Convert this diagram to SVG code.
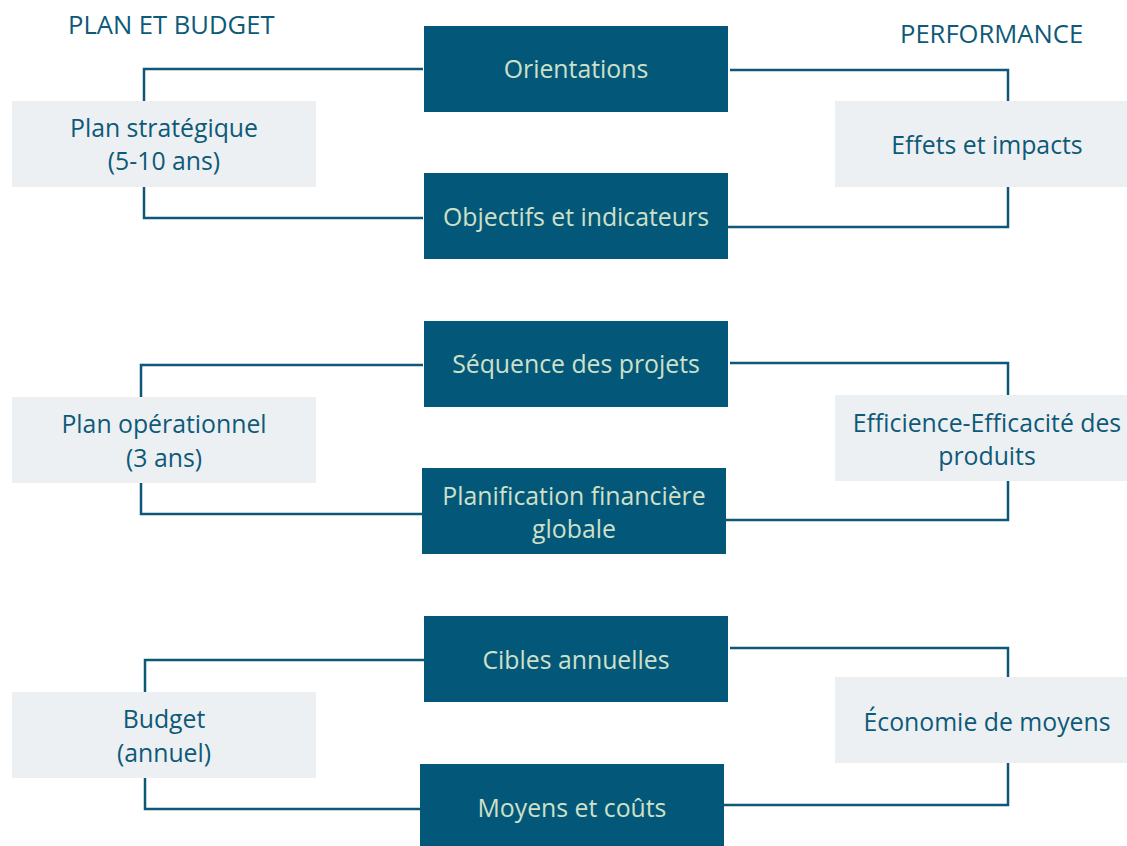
<svg xmlns="http://www.w3.org/2000/svg" width="1127" height="846" viewBox="0 0 1127 846">
  <style>
    .conn { fill: none; stroke: #0d5877; stroke-width: 2.5; }
    .light { fill: #edf0f3; }
    .dark { fill: #03587a; }
    text { font-family: "Open Sans", "Noto Sans", sans-serif; font-size: 24.8px; text-anchor: middle; }
    .lt { fill: #0d5a78; }
    .dt { fill: #cfe0c8; }
    .hdr { fill: #0d5a78; font-size: 25.6px; text-anchor: start; }
  </style>
  <rect width="1127" height="846" fill="#ffffff"/>

  <g id="headers">
    <text class="hdr" x="68" y="34">PLAN ET BUDGET</text>
    <text class="hdr" x="900" y="43">PERFORMANCE</text>
  </g>

  <g id="connectors">
    <path class="conn" d="M423,69 H144 V218 H423"/>
    <path class="conn" d="M730,70 H1008 V227 H728"/>
    <path class="conn" d="M423,365 H141 V514 H422"/>
    <path class="conn" d="M730,363 H1008 V520 H726"/>
    <path class="conn" d="M424,660 H145 V809 H420"/>
    <path class="conn" d="M730,648 H1008 V805 H724"/>
  </g>

  <!-- Row 1 -->
  <g id="plan-strategique">
    <rect class="light" x="12" y="101" width="304" height="86"/>
    <text class="lt" x="164" y="137">Plan stratégique</text>
    <text class="lt" x="164" y="170">(5-10 ans)</text>
  </g>
  <g id="orientations">
    <rect class="dark" x="424" y="26" width="304" height="86"/>
    <text class="dt" x="576" y="78">Orientations</text>
  </g>
  <g id="objectifs">
    <rect class="dark" x="424" y="173" width="304" height="86"/>
    <text class="dt" x="576" y="226">Objectifs et indicateurs</text>
  </g>
  <g id="effets">
    <rect class="light" x="835" y="101" width="304" height="86"/>
    <text class="lt" x="987" y="154">Effets et impacts</text>
  </g>

  <!-- Row 2 -->
  <g id="plan-operationnel">
    <rect class="light" x="12" y="397" width="304" height="86"/>
    <text class="lt" x="164" y="433">Plan opérationnel</text>
    <text class="lt" x="164" y="467">(3 ans)</text>
  </g>
  <g id="sequence">
    <rect class="dark" x="424" y="321" width="304" height="86"/>
    <text class="dt" x="576" y="373">Séquence des projets</text>
  </g>
  <g id="planification">
    <rect class="dark" x="422" y="468" width="304" height="86"/>
    <text class="dt" x="574" y="505">Planification financière</text>
    <text class="dt" x="574" y="538">globale</text>
  </g>
  <g id="efficience">
    <rect class="light" x="835" y="395" width="304" height="86"/>
    <text class="lt" x="987" y="432">Efficience-Efficacité des</text>
    <text class="lt" x="987" y="465">produits</text>
  </g>

  <!-- Row 3 -->
  <g id="budget">
    <rect class="light" x="12" y="692" width="304" height="86"/>
    <text class="lt" x="164" y="728">Budget</text>
    <text class="lt" x="164" y="762">(annuel)</text>
  </g>
  <g id="cibles">
    <rect class="dark" x="424" y="616" width="304" height="86"/>
    <text class="dt" x="576" y="669">Cibles annuelles</text>
  </g>
  <g id="moyens">
    <rect class="dark" x="420" y="764" width="304" height="86"/>
    <text class="dt" x="572" y="817">Moyens et coûts</text>
  </g>
  <g id="economie">
    <rect class="light" x="835" y="677" width="304" height="86"/>
    <text class="lt" x="987" y="731">Économie de moyens</text>
  </g>
</svg>
